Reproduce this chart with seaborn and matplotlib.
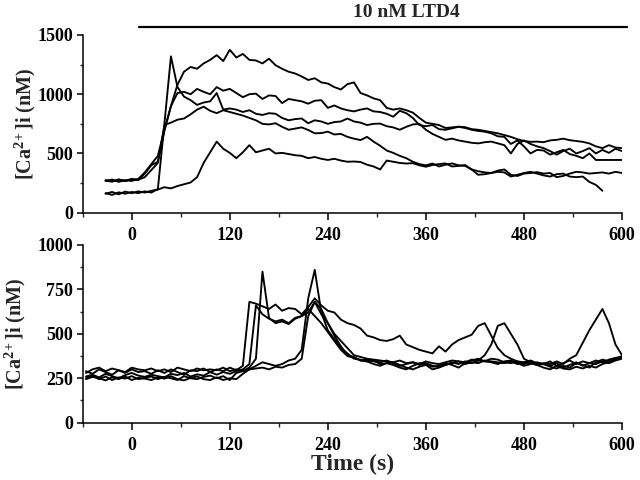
"""
[Ca2+]i traces - cellules individuelles, reponse au LTD4 10 nM
"""
import numpy as np
import pandas as pd
import seaborn as sns
import matplotlib.pyplot as plt
from matplotlib.ticker import MultipleLocator


# Temps d'echantillonnage (s)
t_haut = np.arange(-32, 601, 8)
t_bas = np.arange(-56, 601, 8)

# Panneau du haut : 5 cellules (nM)
haut_a = [270, 262, 280, 266, 282, 275, 330, 400, 430, 690,
          900, 1080, 1190, 1230, 1215, 1260, 1290, 1330, 1280, 1375,
          1310, 1340, 1290, 1285, 1260, 1300, 1245, 1215, 1190, 1175,
          1150, 1120, 1135, 1100, 1090, 1060, 1040, 1085, 1100, 1010,
          990, 965, 950, 885, 870, 880, 865, 845, 800, 760,
          750, 740, 715, 720, 726, 722, 705, 700, 690, 680,
          670, 655, 640, 620, 605, 598, 600, 595, 610, 615,
          625, 612, 605, 598, 585, 560, 545, 570, 550, 545]
haut_b = [268, 280, 260, 275, 268, 285, 340, 410, 480, 700,
          900, 1010, 1020, 1000, 1045, 1020, 1000, 1060, 1030, 1045,
          1010, 975, 1000, 1005, 960, 990, 985, 925, 960, 950,
          940, 920, 945, 950, 885, 905, 880, 865, 855, 870,
          880, 855, 850, 835, 810, 860, 840, 800, 740, 730,
          740, 705, 700, 712, 725, 715, 700, 690, 684, 670,
          645, 640, 580, 610, 560, 500, 530, 525, 490, 510,
          530, 495, 480, 460, 500, 445, 445, 445, 445, 445]
haut_c = [165, 150, 172, 160, 175, 165, 180, 170, 200, 750,
          1320, 1060, 980, 950, 910, 930, 940, 1010, 870, 880,
          870, 850, 865, 835, 825, 840, 835, 800, 780, 790,
          795, 755, 780, 770, 750, 765, 770, 795, 770, 760,
          740, 750, 752, 730, 720, 700, 725, 745, 750, 700,
          665, 640, 615, 625, 610, 600, 590, 585, 595, 600,
          585, 570, 500, 580, 610, 580, 560, 545, 520, 490,
          520, 540, 500, 520, 545, 500, 530, 505, 540, 520]
haut_d = [275, 265, 280, 270, 285, 278, 300, 360, 420, 740,
          760, 785, 795, 830, 870, 895, 860, 840, 865, 850,
          835, 820, 800, 780, 750, 745, 755, 725, 700, 710,
          720, 698, 670, 672, 684, 660, 665, 640, 625, 613,
          640, 600, 565, 525, 505, 480, 460, 430, 410, 400,
          415, 390, 405, 416, 400, 395, 365, 350, 340, 335,
          345, 340, 305, 320, 335, 345, 330, 315, 305, 325,
          330, 305, 300, 305, 260, 235, 185, np.nan, np.nan, np.nan]
haut_e = [160, 175, 155, 178, 165, 180, 170, 185, 195, 215,
          205, 225, 240, 255, 300, 420, 510, 600, 540, 505,
          460, 510, 570, 510, 525, 540, 500, 505, 495, 485,
          480, 460, 470, 455, 445, 455, 440, 430, 432, 428,
          405, 390, 365, 440, 430, 420, 415, 418, 400, 388,
          402, 410, 416, 390, 395, 402, 365, 320, 325, 335,
          355, 365, 320, 310, 330, 335, 342, 330, 335, 300,
          310, 330, 345, 340, 330, 335, 340, 330, 345, 335]

# Panneau du bas : 5 cellules (nM)
bas_a = [290, 275, 300, 285, 270, 295, 280, 300, 285, 290,
         275, 295, 280, 300, 285, 270, 295, 290, 305, 285,
         300, 290, 310, 295, 320, 680, 670, 655, 640, 665,
         630, 645, 640, 610, 650, 700, 660, 630, 620, 580,
         560, 550, 530, 490, 480, 465, 460, 470, 490, 440,
         425, 410, 400, 390, 430, 400, 440, 465, 480, 495,
         545, 560, 490, 420, 380, 360, 345, 340, 350, 335,
         330, 345, 320, 335, 350, 330, 345, 335, 350, 340,
         355, 365, 370]
bas_b = [260, 270, 255, 275, 262, 250, 268, 280, 265, 258,
         270, 262, 255, 275, 268, 280, 260, 272, 265, 285,
         270, 285, 275, 290, 300, 330, 660, 610, 585, 570,
         580, 560, 590, 600, 620, 680, 610, 560, 500, 460,
         420, 380, 370, 360, 355, 350, 345, 340, 350, 335,
         340, 330, 345, 335, 330, 340, 350, 345, 340, 355,
         350, 380, 440, 545, 560, 500, 440, 360, 340, 325,
         330, 320, 335, 310, 325, 340, 320, 335, 330, 345,
         335, 350, 360]
bas_c = [250, 265, 245, 260, 240, 255, 248, 262, 245, 252,
         260, 245, 258, 250, 240, 262, 250, 245, 258, 265,
         250, 262, 240, 280, 290, 310, 360, 850, 590, 560,
         570, 555, 585, 600, 640, 600, 560, 510, 460, 410,
         375, 365, 350, 355, 345, 340, 350, 335, 320, 330,
         340, 325, 335, 320, 315, 325, 340, 330, 345, 335,
         350, 345, 360, 355, 340, 335, 345, 330, 340, 325,
         310, 300, 320, 305, 300, 315, 305, 320, 310, 330,
         340, 355, 365]
bas_d = [280, 300, 310, 290, 305, 295, 285, 310, 300, 295,
         305, 290, 300, 285, 310, 300, 290, 305, 295, 300,
         295, 310, 290, 300, 290, 300, 320, 340, 330, 320,
         330, 350, 360, 410, 700, 860, 620, 520, 470, 420,
         390, 360, 355, 345, 350, 330, 335, 340, 325, 310,
         300, 315, 325, 300, 310, 325, 335, 345, 330, 340,
         335, 350, 345, 340, 335, 345, 330, 340, 335, 325,
         335, 330, 345, 330, 360, 380, 450, 520, 580, 640,
         560, 440, 380]
bas_e = [245, 258, 250, 238, 255, 245, 260, 240, 252, 248,
         240, 255, 248, 262, 245, 238, 252, 260, 245, 240,
         255, 240, 250, 245, 275, 300, 305, 310, 300, 315,
         310, 325, 330, 360, 600, 680, 640, 560, 490, 430,
         380, 370, 350, 345, 330, 320, 335, 325, 310, 300,
         320, 335, 330, 315, 320, 335, 325, 310, 335, 350,
         360, 345, 340, 330, 345, 350, 335, 320, 330, 340,
         330, 315, 305, 320, 310, 335, 325, 310, 340, 355,
         345, 360, 375]

# Application du LTD4 (s)
ltd4_debut, ltd4_fin = 9, 606


def to_long(t, traces):
    frames = []
    for k, vals in enumerate(traces):
        frames.append(pd.DataFrame({'t': t, 'ca': vals, 'cell': k}))
    return pd.concat(frames, ignore_index=True).dropna()


df_haut = to_long(t_haut, [haut_a, haut_b, haut_c, haut_d, haut_e])
df_bas = to_long(t_bas, [bas_a, bas_b, bas_c, bas_d, bas_e])

sns.set_style('ticks')
plt.rcParams['font.family'] = ['Liberation Serif', 'DejaVu Serif']
plt.rcParams['font.weight'] = 'bold'
plt.rcParams['axes.labelweight'] = 'bold'
plt.rcParams['mathtext.default'] = 'regular'

fig = plt.figure(figsize=(6.4, 4.8), dpi=100)
ax1 = fig.add_axes([0.1292, 0.5569, 0.8427, 0.3702])
ax2 = fig.add_axes([0.1292, 0.1194, 0.8427, 0.3702])

for ax, df, ymax, ymaj in [(ax1, df_haut, 1500, 500), (ax2, df_bas, 1000, 250)]:
    sns.lineplot(data=df, x='t', y='ca', units='cell', estimator=None,
                 color='black', linewidth=1.35, ax=ax, legend=False)
    ax.set_xlim(-60, 600)
    ax.set_ylim(0, ymax)
    ax.xaxis.set_major_locator(MultipleLocator(120))
    ax.xaxis.set_minor_locator(MultipleLocator(60))
    ax.yaxis.set_major_locator(MultipleLocator(ymaj))
    ax.yaxis.set_minor_locator(MultipleLocator(ymaj / 2))
    for side in ['top', 'right']:
        ax.spines[side].set_visible(False)
    for side in ['left', 'bottom']:
        ax.spines[side].set_linewidth(1.1)
        ax.spines[side].set_color('black')
    ax.tick_params(axis='x', which='major', length=5, width=1.1, pad=5,
                   labelsize=13, colors='black')
    ax.tick_params(axis='x', which='minor', length=3, width=1.0)
    ax.tick_params(axis='y', which='major', length=4, width=1.1, pad=3,
                   labelsize=13, colors='black')
    ax.tick_params(axis='y', which='minor', length=2.5, width=1.0)
    ax.set_ylabel('[Ca$^{2\\!+}$]i (nM)', fontsize=14.5, fontweight='bold')
    ax.set_facecolor('white')

ax1.set_xlabel('')
ax1.yaxis.set_label_coords(-0.083, 0.5)
ax2.yaxis.set_label_coords(-0.101, 0.5)
ax2.set_xlabel('Time (s)', fontsize=17, fontweight='bold', labelpad=0)

# Barre d'application du LTD4
ax1.plot([ltd4_debut, ltd4_fin], [1.045, 1.045], color='black', linewidth=1.6,
         transform=ax1.get_xaxis_transform(), clip_on=False)
ax1.text(336, 1.127, '10 nM LTD4', transform=ax1.get_xaxis_transform(),
         ha='center', va='center', fontsize=14, fontweight='bold')

fig.savefig('out.png', dpi=100, facecolor='white')
